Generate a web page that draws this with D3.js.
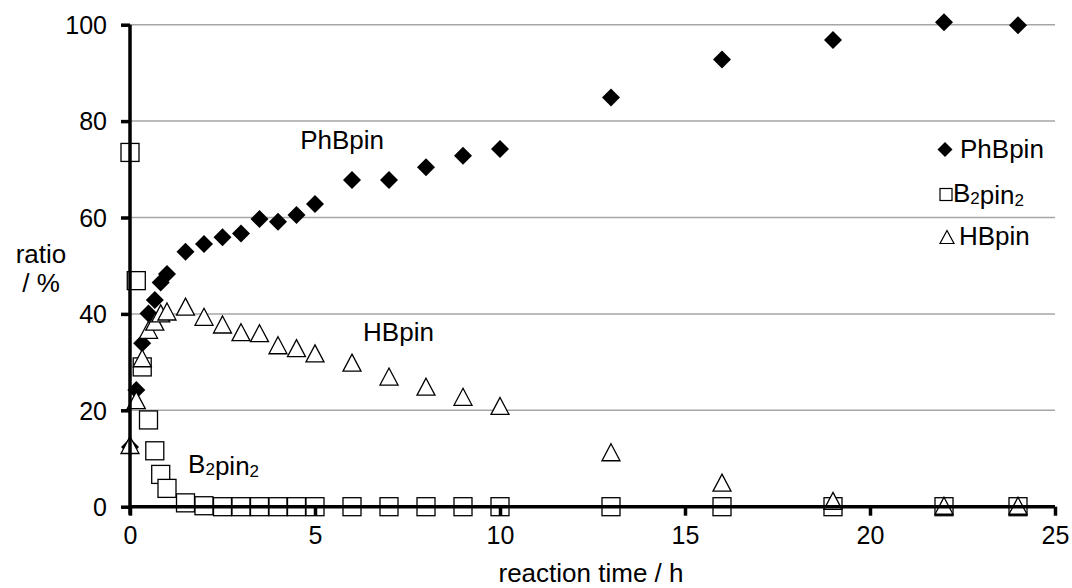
<!DOCTYPE html>
<html>
<head>
<meta charset="utf-8">
<script src="https://cdn.jsdelivr.net/npm/d3@7"></script>
<style>
  body { margin: 0; background: #fff; }
  svg { display: block; font-family: "Liberation Sans", Arial, sans-serif; }
  .grid line { stroke: #a6a6a6; stroke-width: 1.5; }
  .axis path, .axis line { stroke: #000; stroke-width: 3.5px; }
</style>
</head>
<body>
<svg id="chart" width="1072" height="588"></svg>
<script>
const times = [0, 0.17, 0.33, 0.5, 0.67, 0.83, 1, 1.5, 2, 2.5, 3, 3.5, 4, 4.5, 5, 6, 7, 8, 9, 10, 13, 16, 19, 22, 24];
const phbpin = [12.4, 24.2, 33.9, 40.1, 42.9, 46.5, 48.3, 52.9, 54.5, 55.9, 56.7, 59.7, 59.1, 60.5, 62.8, 67.8, 67.8, 70.4, 72.8, 74.2, 84.9, 92.8, 96.8, 100.5, 99.9];
const b2pin2 = [73.5, 46.9, 29.0, 18.0, 11.6, 6.7, 3.8, 0.8, 0.2, 0, 0, 0, 0, 0, 0, 0, 0, 0, 0, 0, 0, 0, 0, 0, 0];
const hbpin = [12.8, 22.1, 30.8, 36.7, 38.4, 40.1, 40.5, 41.5, 39.4, 37.8, 36.2, 36.0, 33.5, 32.9, 31.8, 29.9, 27.0, 24.9, 22.8, 20.9, 11.3, 5.0, 1.2, 0.2, 0.2];
const xTicks = [0, 5, 10, 15, 20, 25];
const yTicks = [0, 20, 40, 60, 80, 100];
// in-plot labels, placed in data units (time, ratio)
const labelNames = ["PhBpin", "HBpin", "B2pin2"];
const labelPos = [[4.6, 74.3], [6.3, 34.4], [1.57, 6.9]];

const margin = {top: 24.7, right: 17, bottom: 81.3, left: 130};
const width = 1072, height = 588;

const svg = d3.select("#chart");
const x = d3.scaleLinear().domain([0, 25]).range([margin.left, width - margin.right]);
const y = d3.scaleLinear().domain([0, 100]).range([height - margin.bottom, margin.top]);

// writes "B2pin2" with subscripted digits
function richText(sel, s, sub) {
  s.split(/(\d)/).filter(p => p).forEach(p => {
    if (/\d/.test(p)) sel.append("tspan").attr("font-size", sub).attr("dy", 2).text(p)
      .clone(true).text("").attr("dy", -2);
    else sel.append("tspan").text(p);
  });
}

// gridlines
svg.append("g").attr("class", "grid")
  .selectAll("line").data(yTicks.filter(d => d > 0)).enter().append("line")
  .attr("x1", x(0)).attr("x2", x(25))
  .attr("y1", d => y(d)).attr("y2", d => y(d));

const diamond = s => `M0,${-s}L${s},0L0,${s}L${-s},0Z`;
const tri = (w, h) => `M0,${-h / 2}L${w / 2},${h / 2}L${-w / 2},${h / 2}Z`;

// PhBpin
svg.append("g").selectAll("path").data(times).enter().append("path")
  .attr("d", diamond(9))
  .attr("transform", (d, i) => `translate(${x(d)},${y(phbpin[i])})`)
  .attr("fill", "#000");

// B2pin2
svg.append("g").selectAll("rect").data(times).enter().append("rect")
  .attr("x", d => x(d) - 9).attr("y", (d, i) => y(b2pin2[i]) - 9)
  .attr("width", 18).attr("height", 18)
  .attr("fill", "#fff").attr("stroke", "#000").attr("stroke-width", 1.3);

// HBpin
svg.append("g").selectAll("path").data(times).enter().append("path")
  .attr("d", tri(18, 17))
  .attr("transform", (d, i) => `translate(${x(d)},${y(hbpin[i])})`)
  .attr("fill", "#fff").attr("stroke", "#000").attr("stroke-width", 1.3);

// axes
const xAxis = svg.append("g").attr("class", "axis")
  .attr("transform", `translate(0,${y(0)})`)
  .call(d3.axisBottom(x).tickValues(xTicks).tickSize(9).tickPadding(11));
const yAxis = svg.append("g").attr("class", "axis")
  .attr("transform", `translate(${x(0)},0)`)
  .call(d3.axisLeft(y).tickValues(yTicks).tickSize(9).tickPadding(14));
[xAxis, yAxis].forEach(a => {
  a.selectAll(".tick text").attr("font-size", 25).attr("fill", "#000")
    .attr("font-family", "Liberation Sans, Arial, sans-serif");
});
xAxis.select(".domain").attr("d", `M${x(0)},0H${x(25)}`);
yAxis.select(".domain").attr("d", `M0,${y(100)}V${y(0) + 8}`);
xAxis.selectAll(".tick text").attr("dy", "0.71em");
yAxis.selectAll(".tick text").attr("dy", "0.35em");

// axis titles
svg.append("text").attr("x", 591).attr("y", 582).attr("text-anchor", "middle")
  .attr("font-size", 26).text("reaction time / h");
svg.append("text").attr("x", 41).attr("y", 263).attr("text-anchor", "middle")
  .attr("font-size", 26).text("ratio");
svg.append("text").attr("x", 41).attr("y", 292).attr("text-anchor", "middle")
  .attr("font-size", 26).text("/ %");

// in-plot labels
labelNames.forEach((n, i) => {
  const t = svg.append("text").attr("x", x(labelPos[i][0])).attr("y", y(labelPos[i][1]))
    .attr("font-size", 26);
  richText(t, n, 17);
});

// legend
const legend = svg.append("g");
const legItems = [
  {name: "PhBpin", cy: 149.5, tx: 960, ty: 157.5},
  {name: "B2pin2", cy: 194.5, tx: 953, ty: 201.5},
  {name: "HBpin", cy: 237, tx: 959, ty: 245}
];
legend.append("path").attr("d", diamond(7.5)).attr("transform", `translate(945,${legItems[0].cy})`);
legend.append("rect").attr("x", 940).attr("y", legItems[1].cy - 6).attr("width", 12).attr("height", 12)
  .attr("fill", "#fff").attr("stroke", "#000").attr("stroke-width", 1.2);
legend.append("path").attr("d", tri(14, 13)).attr("transform", `translate(947,${legItems[2].cy})`)
  .attr("fill", "#fff").attr("stroke", "#000").attr("stroke-width", 1.2);
legItems.forEach(d => {
  const t = legend.append("text").attr("x", d.tx).attr("y", d.ty).attr("font-size", 26);
  richText(t, d.name, 17);
});
</script>
</body>
</html>
